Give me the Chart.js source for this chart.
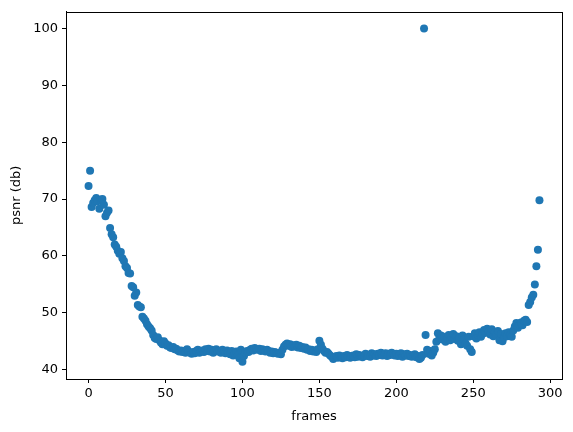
<!DOCTYPE html>
<html>
<head>
<meta charset="utf-8">
<script src="https://cdn.jsdelivr.net/npm/chart.js@4/dist/chart.umd.min.js"></script>
<style>
  html, body { margin: 0; padding: 0; background: #fff; }
  #psnrChart { display: block; }
</style>
</head>
<body>
<canvas id="psnrChart" width="573" height="432"></canvas>
<script>
// psnr per frame (frame index = position in array)
const psnr = [
  72.3, 75.0, 68.6, 69.3, 69.8, 70.2, 69.6, 68.3, 69.9, 70.0,
  69.0, 67.0, 67.6, 68.0, 64.9, 63.8, 63.3, 62.0, 61.6, 60.9,
  60.4, 60.7, 59.6, 59.1, 58.2, 57.9, 57.0, 56.9, 54.7, 54.5,
  53.0, 53.6, 51.4, 51.1, 51.0, 49.3, 49.0, 48.6, 48.0, 47.6,
  47.3, 46.9, 46.1, 45.6, 45.4, 45.7, 45.2, 44.8, 44.5, 45.0,
  44.6, 44.2, 44.3, 43.9, 43.8, 44.0, 43.6, 43.7, 43.4, 43.2,
  43.4, 43.1, 43.3, 43.0, 43.6, 43.2, 43.0, 42.8, 43.1, 42.9,
  43.3, 43.5, 43.0, 43.2, 43.4, 43.1, 43.6, 43.3, 43.7, 43.2,
  43.5, 43.0, 43.4, 43.6, 43.2, 43.3, 43.0, 43.5, 43.1, 42.9,
  43.4, 43.0, 42.7, 43.3, 42.5, 42.9, 43.2, 42.6, 42.0, 43.5,
  41.4, 42.4, 43.0, 43.3, 43.1, 43.5, 43.7, 43.4, 43.8, 43.6,
  43.5, 43.7, 43.3, 43.6, 43.4, 43.2, 43.5, 43.3, 43.0, 43.2,
  42.9, 43.1, 43.0, 42.8, 43.0, 42.7, 43.5, 44.1, 44.4, 44.6,
  44.2, 44.5, 44.0, 44.3, 44.1, 44.4, 43.9, 44.2, 43.8, 44.0,
  43.7, 43.9, 43.5, 43.6, 43.3, 43.5, 43.2, 43.4, 43.1, 43.6,
  45.1, 44.4, 43.7, 43.3, 43.0, 43.1, 42.8, 42.5, 42.3, 41.9,
  42.2, 42.4, 42.1, 42.5, 42.3, 42.0, 42.4, 42.2, 42.6, 42.3,
  42.1, 42.4, 42.5, 42.2, 42.7, 42.3, 42.6, 42.4, 42.2, 42.5,
  42.8, 42.4, 42.6, 42.3, 42.9, 42.5, 42.7, 42.4, 42.8, 42.6,
  43.0, 42.5, 42.7, 42.9, 42.4, 42.8, 42.6, 43.0, 42.7, 42.5,
  42.8, 42.4, 42.6, 42.9, 42.3, 42.7, 42.5, 42.8, 42.4, 42.6,
  42.3, 42.5, 42.7, 42.2, 42.4, 41.9, 42.1, 42.6, 100.0, 46.1,
  43.5, 42.8, 43.3, 42.5, 43.0, 43.6, 44.9, 46.4, 45.6, 46.0,
  45.3, 45.8, 44.9, 45.5, 46.1, 45.2, 45.7, 46.3, 45.4, 45.9,
  45.1, 45.6, 44.5, 46.0, 45.3, 44.6, 44.2, 45.8, 43.6, 43.1,
  45.9, 46.4, 45.5, 46.1, 46.6, 45.8, 46.3, 47.0, 46.5, 47.2,
  46.7, 46.2, 47.1, 45.9, 46.6, 46.0, 46.8, 45.2, 46.3, 45.0,
  45.7, 46.4, 45.9, 46.6, 46.1, 45.8, 46.9, 47.6, 48.2, 47.4,
  47.9, 48.3, 47.8, 48.6, 48.8, 48.4, 51.4, 51.9, 52.7, 53.2,
  55.0, 58.2, 61.1, 69.8
];
const frames = psnr.map((v, i) => i);

const xTicks = [0, 50, 100, 150, 200, 250, 300];
const yTicks = [40, 50, 60, 70, 80, 90, 100];

// matplotlib style 5% margins around the data
const xMin = -14.65, xMax = 307.65;
const yMin = 38.37, yMax = 102.93;

const font = { family: 'DejaVu Sans', size: 13 };

// box around plot area like matplotlib spines
const frameBox = {
    id: 'frameBox',
    afterDraw(chart) {
        const a = chart.chartArea;
        const c = chart.ctx;
        c.save();
        c.strokeStyle = '#000';
        c.lineWidth = 1;
        c.strokeRect(Math.round(a.left) + 0.5, Math.round(a.top) + 0.5,
                     Math.round(a.right - a.left), Math.round(a.bottom - a.top));
        c.restore();
    }
};

const ctx = document.getElementById('psnrChart').getContext('2d');
const chart = new Chart(ctx, {
    type: 'scatter',
    data: {
        datasets: [{
            label: 'psnr',
            data: frames.map((f, i) => ({ x: f, y: psnr[i] })),
            backgroundColor: '#1f77b4',
            borderWidth: 0,
            pointRadius: 4
        }]
    },
    options: {
        responsive: false,
        animation: false,
        events: [],
        layout: { padding: { top: 9, right: 11, left: 0, bottom: 0 } },
        plugins: { legend: { display: false }, tooltip: { enabled: false } },
        scales: {
            x: {
                type: 'linear',
                min: xMin,
                max: xMax,
                afterBuildTicks: axis => { axis.ticks = xTicks.map(v => ({ value: v })); },
                afterFit: axis => { axis.height = 53; },
                grid: { display: true, drawOnChartArea: false, tickLength: 4, color: '#000' },
                border: { display: true, color: '#000' },
                ticks: { color: '#000', font: font, padding: 3, maxRotation: 0 },
                title: { display: true, text: 'frames', color: '#000', font: font, padding: { top: 2, bottom: 8 } }
            },
            y: {
                type: 'linear',
                min: yMin,
                max: yMax,
                afterBuildTicks: axis => { axis.ticks = yTicks.map(v => ({ value: v })); },
                afterFit: axis => { axis.width = 66; },
                grid: { display: true, drawOnChartArea: false, tickLength: 4, color: '#000' },
                border: { display: true, color: '#000' },
                ticks: { color: '#000', font: font, padding: 4 },
                title: { display: true, text: 'psnr (db)', color: '#000', font: font, padding: { top: 9, bottom: 2 } }
            }
        }
    },
    plugins: [frameBox]
});
</script>
</body>
</html>
